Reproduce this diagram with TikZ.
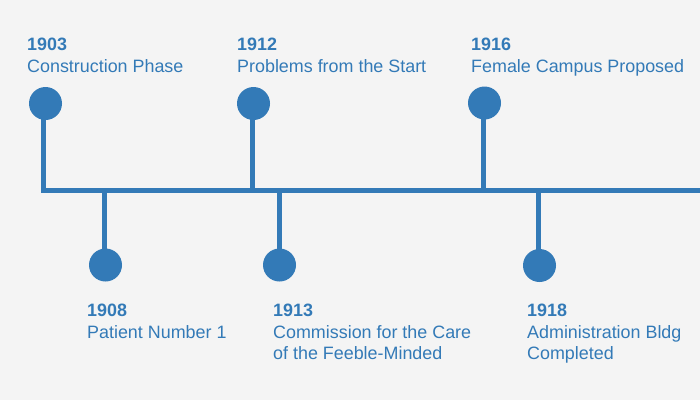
\documentclass[tikz,border=0pt]{standalone}
\usepackage{fontspec}
\setmainfont{Liberation Sans}
\definecolor{tlblue}{HTML}{337AB7}
\definecolor{tlbg}{HTML}{F4F4F4}
\tikzset{
  axisline/.style={draw=tlblue, line width=5pt},
  stemline/.style={draw=tlblue, line width=5pt},
  dot/.style={circle, fill=tlblue, minimum size=33pt, inner sep=0pt, outer sep=0pt},
  yeartxt/.style={anchor=base west, inner sep=0pt, text=tlblue, font=\fontsize{17.9}{22}\selectfont\bfseries},
  evtxt/.style={anchor=base west, inner sep=0pt, text=tlblue, font=\fontsize{17.9}{22}\selectfont},
}
\begin{document}
\begin{tikzpicture}[x=1pt,y=-1pt]
\fill[tlbg] (0,0) rectangle (700,400);
\useasboundingbox (0,0) rectangle (700,400);
% axis
\coordinate (axL) at (41,190);
\coordinate (axR) at (700,190);
\draw[axisline] (axL) -- (axR);
% dots
\node[dot] (d1903) at (45.5,103.5) {};
\node[dot] (d1912) at (253.5,103.5) {};
\node[dot] (d1916) at (484.5,103) {};
\node[dot] (d1908) at (105.5,265) {};
\node[dot] (d1913) at (279.5,265) {};
\node[dot] (d1918) at (539.5,265.5) {};
% stem feet on the axis
\coordinate (s1903) at (43.5,192.5);
\coordinate (s1912) at (252.5,192.5);
\coordinate (s1916) at (483.5,192.5);
\coordinate (s1908) at (104.5,187.5);
\coordinate (s1913) at (279.5,187.5);
\coordinate (s1918) at (538.5,187.5);
% stems
\draw[stemline] ([yshift=3pt]d1903.south -| s1903) -- (s1903);
\draw[stemline] ([yshift=3pt]d1912.south -| s1912) -- (s1912);
\draw[stemline] ([yshift=3pt]d1916.south -| s1916) -- (s1916);
\draw[stemline] ([yshift=-3pt]d1908.north -| s1908) -- (s1908);
\draw[stemline] ([yshift=-3pt]d1913.north -| s1913) -- (s1913);
\draw[stemline] ([yshift=-3pt]d1918.north -| s1918) -- (s1918);
% texts
\node[yeartxt] (y1903) at (27,50) {1903};
\node[evtxt] (e1903) at (27,72) {Construction Phase};
\node[yeartxt] (y1912) at (237,50) {1912};
\node[evtxt] (e1912) at (237,72) {Problems from the Start};
\node[yeartxt] (y1916) at (471,50) {1916};
\node[evtxt] (e1916) at (471,72) {Female Campus Proposed};
\node[yeartxt] (y1908) at (87,316) {1908};
\node[evtxt] (e1908) at (87,338) {Patient Number 1};
\node[yeartxt] (y1913) at (273,316) {1913};
\node[evtxt] (e1913a) at (273,338) {Commission for the Care};
\node[evtxt] (e1913b) at (273,359) {of the Feeble-Minded};
\node[yeartxt] (y1918) at (527,316) {1918};
\node[evtxt] (e1918a) at (527,338) {Administration Bldg};
\node[evtxt] (e1918b) at (527,359) {Completed};
\end{tikzpicture}
\end{document}
